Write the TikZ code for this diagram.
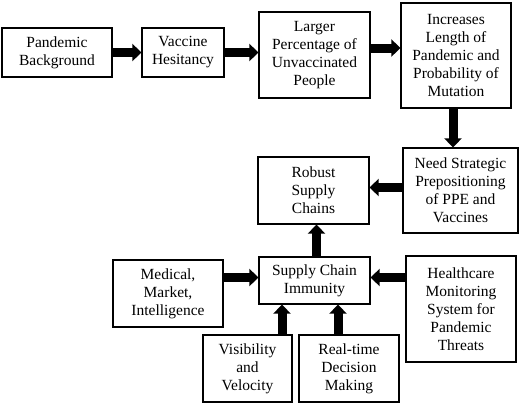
\documentclass[tikz,border=0pt]{standalone}
\usepackage{fontspec}
\setmainfont{Liberation Serif}
\usetikzlibrary{arrows.meta}

\begin{document}
\begin{tikzpicture}[x=1pt, y=-1pt,
    box/.style={draw, line width=1.2pt, align=center, inner sep=2pt,
        font=\fontsize{15.5}{18}\selectfont},
    blk/.style={line width=9pt, -{Triangle[width=17pt,length=9pt]}}]

        % Fix the page size
        \useasboundingbox (0,0) rectangle (520,405);

        % Top row of boxes
        \node[box, minimum width=110pt, minimum height=49pt] (pb) at (57,52.5) {Pandemic\\Background};
        \node[box, minimum width=82pt, minimum height=49pt] (vh) at (183,52.5) {Vaccine\\Hesitancy};
        \node[box, minimum width=111pt, minimum height=86pt] (lp) at (314.5,55) {Larger\\Percentage of\\Unvaccinated\\People};
        \node[box, minimum width=110pt, minimum height=105pt] (il) at (456,55.5) {Increases\\Length of\\Pandemic and\\Probability of\\Mutation};

        % Middle row
        \node[box, minimum width=115pt, minimum height=85pt] (ns) at (460.5,190.5) {Need Strategic\\Prepositioning\\of PPE and\\Vaccines};
        \node[box, minimum width=111pt, minimum height=67pt] (rs) at (313.5,190.5) {Robust\\Supply\\Chains};

        % Supply chain immunity and its inputs
        \node[box, minimum width=111pt, minimum height=47pt] (sc) at (314.5,280.5) {Supply Chain\\Immunity};
        \node[box, minimum width=110pt, minimum height=67pt] (mm) at (168,293.5) {Medical,\\Market,\\Intelligence};
        \node[box, minimum width=110pt, minimum height=106pt] (hm) at (461,309) {Healthcare\\Monitoring\\System for\\Pandemic\\Threats};
        \node[box, minimum width=89pt, minimum height=67pt] (vv) at (247.5,368.5) {Visibility\\and\\Velocity};
        \node[box, minimum width=100pt, minimum height=67pt] (rt) at (349,368.5) {Real-time\\Decision\\Making};

        % Block arrows along the chain
        \draw[blk] (pb.east) -- (vh.west);
        \draw[blk] (vh.east) -- (vh.east -| lp.west);
        \draw[blk] ([yshift=7pt]lp.east) -- ([yshift=7pt]lp.east -| il.west);
        \draw[blk] ([xshift=-3pt]il.south) -- ([xshift=-3pt]il.south |- ns.north);
        \draw[blk] ([yshift=3pt]ns.west) -- ([yshift=3pt]ns.west -| rs.east);
        \draw[blk] ([xshift=2pt]sc.north) -- ([xshift=2pt]sc.north |- rs.south);

        % Block arrows into supply chain immunity
        \draw[blk] ([yshift=3pt]sc.west -| mm.east) -- ([yshift=3pt]sc.west);
        \draw[blk] ([yshift=3pt]sc.east -| hm.west) -- ([yshift=3pt]sc.east);
        \draw[blk] ([xshift=34.5pt]vv.north) -- ([xshift=34.5pt]vv.north |- sc.south);
        \draw[blk] ([xshift=-11pt]rt.north) -- ([xshift=-11pt]rt.north |- sc.south);

    \end{tikzpicture}
\end{document}
